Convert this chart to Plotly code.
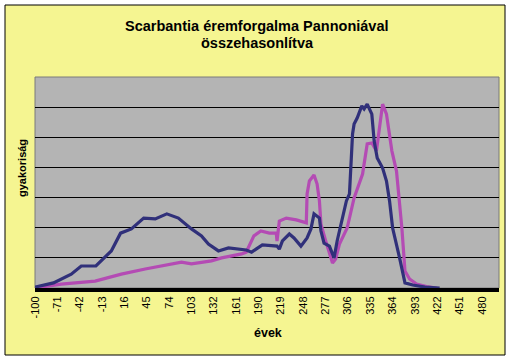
import plotly.graph_objects as go

# Scarbantia (navy) series
navy_years = [-100, -76, -53, -40, -21, -1, 11, 25, 41, 56, 71, 86, 103, 116, 125, 138, 151, 161,
              174, 181, 195, 214, 217, 221, 230, 236, 245, 253, 258, 262, 269, 271, 275, 282, 288,
              292, 297, 304, 308, 312, 314, 318, 324, 327, 331, 337, 340, 344, 351, 356, 360, 364,
              373, 380, 390, 406, 425]
navy_vals = [0.03, 0.17, 0.46, 0.73, 0.73, 1.23, 1.82, 1.96, 2.32, 2.29, 2.46, 2.32, 1.96, 1.73,
             1.46, 1.23, 1.33, 1.29, 1.26, 1.19, 1.43, 1.39, 1.29, 1.56, 1.79, 1.66, 1.39, 1.66,
             1.96, 2.46, 2.32, 1.89, 1.49, 1.39, 1.00, 1.56, 2.12, 2.89, 3.12, 5.11, 5.44, 5.64,
             6.04, 5.94, 6.10, 5.77, 4.88, 4.31, 3.98, 3.55, 2.89, 1.99, 1.00, 0.17, 0.10, 0.03, 0.0]

# Pannonia (magenta) series
mag_years = [-100, -66, -22, 12, 43, 73, 90, 103, 129, 142, 168, 174, 184, 193, 204, 213, 214, 217,
             226, 239, 252, 253, 256, 262, 266, 269, 271, 278, 286, 290, 295, 305, 314, 325, 331,
             337, 343, 351, 356, 363, 369, 376, 380, 386, 395, 408, 421]
mag_vals = [0.0, 0.13, 0.23, 0.46, 0.63, 0.76, 0.86, 0.80, 0.90, 1.00, 1.13, 1.19, 1.73, 1.89, 1.82,
            1.82, 1.56, 2.22, 2.32, 2.26, 2.16, 3.12, 3.55, 3.75, 3.45, 2.89, 2.12, 1.49, 0.83, 0.96,
            1.46, 1.99, 2.99, 3.78, 4.78, 4.81, 4.55, 6.10, 5.77, 4.55, 3.88, 1.99, 0.56, 0.30, 0.13,
            0.05, 0.0]

tick_years = list(range(-100, 481, 29))
tick_labels = [str(t) for t in tick_years]

FONT = "Liberation Sans, Arial, sans-serif"
PW, PH = 464, 211  # plot area size in px (x 35..499, y 77..288)

fig = go.Figure()
fig.add_trace(go.Scatter(x=mag_years, y=mag_vals, mode="lines", name="Pannonia",
                         line=dict(color="#B44BB4", width=3.2)))
fig.add_trace(go.Scatter(x=navy_years, y=navy_vals, mode="lines", name="Scarbantia",
                         line=dict(color="#30307A", width=3.2)))

fig.update_layout(
    width=514, height=360,
    margin=dict(l=35, r=15, t=77, b=72),
    paper_bgcolor="white",
    plot_bgcolor="#B4B4B4",
    showlegend=False,
    font=dict(family=FONT, color="black"),
    shapes=[
        dict(type="rect", xref="paper", yref="paper", x0=-30 / PW, x1=1 + 6 / PW,
             y0=-67 / PH, y1=1 + 72 / PH, fillcolor="#F5F591",
             line=dict(color="black", width=1), layer="below"),
        dict(type="rect", xref="paper", yref="paper", x0=0, x1=1, y0=0, y1=1,
             fillcolor="#B4B4B4", line=dict(color="#7A7A7A", width=1), layer="below"),
    ],
    annotations=[
        dict(text="<b>Scarbantia éremforgalma Pannoniával</b>", xref="paper", yref="paper",
             x=(257 - 35) / PW, y=1 + (77 - 26) / PH, showarrow=False,
             font=dict(size=14.5, family=FONT), xanchor="center", yanchor="middle"),
        dict(text="<b>összehasonlítva</b>", xref="paper", yref="paper",
             x=(257 - 35) / PW, y=1 + (77 - 43) / PH, showarrow=False,
             font=dict(size=14.5, family=FONT), xanchor="center", yanchor="middle"),
        dict(text="<b>gyakoriság</b>", xref="paper", yref="paper",
             x=(22 - 35) / PW, y=(288 - 168) / PH, showarrow=False, textangle=-90,
             font=dict(size=11, family=FONT), xanchor="center", yanchor="middle"),
        dict(text="<b>évek</b>", xref="paper", yref="paper",
             x=(268 - 35) / PW, y=-(333 - 288) / PH, showarrow=False,
             font=dict(size=12.5, family=FONT), xanchor="center", yanchor="middle"),
    ],
)

fig.update_xaxes(range=[-100, 502], tickmode="array", tickvals=tick_years, ticktext=tick_labels,
                 tickangle=-90, tickfont=dict(size=11, family=FONT), showgrid=False,
                 zeroline=False, showline=True, linecolor="black", linewidth=4, ticks="")
fig.update_yaxes(range=[0, 7], dtick=1, showticklabels=False, showgrid=True, gridcolor="black",
                 gridwidth=1, zeroline=False, showline=False, ticks="")

fig.write_html("out.html", config={"displayModeBar": False},
               post_script="document.body.style.margin='0';")
